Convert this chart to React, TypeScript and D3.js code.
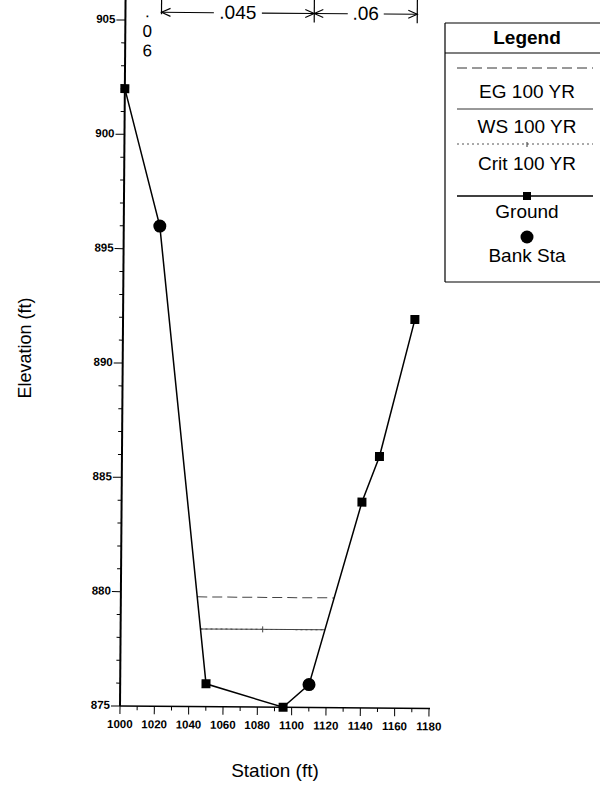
import React from "react";
import * as d3 from "d3";

const groundStations = [1000, 1021, 1050, 1095, 1110, 1140, 1150, 1170];
const groundElevations = [902, 896, 876, 875, 876, 884, 886, 892];
const bankStations = [1021, 1110];
const bankElevations = [896, 876];
const egElevation = 879.8;
const wsElevation = 878.4;
const critElevation = 878.4;
const nBreaks = [1000, 1021, 1110, 1170];
const nValues = [".06", ".045", ".06"];
const xTickValues = [1000, 1020, 1040, 1060, 1080, 1100, 1120, 1140, 1160, 1180];
const yTickValues = [875, 880, 885, 890, 895, 900, 905];
const legendItems = ["EG 100 YR", "WS 100 YR", "Crit 100 YR", "Ground", "Bank Sta"];

const W = 601;
const H = 791;
const FONT = "Arial, 'Liberation Sans', Helvetica, sans-serif";

const x = d3.scaleLinear().domain([1000, 1180]).range([120, 429]);
const y = d3.scaleLinear().domain([875, 905]).range([706, 20]);

const ground = groundStations.map((s, i) => [s, groundElevations[i]] as [number, number]);

function waterExtent(elev: number): [number, number] {
  let left = groundStations[0];
  let right = groundStations[groundStations.length - 1];
  for (let i = 0; i < ground.length - 1; i++) {
    const [s0, e0] = ground[i];
    const [s1, e1] = ground[i + 1];
    if (e0 >= elev && e1 < elev) {
      left = s0 + ((e0 - elev) / (e0 - e1)) * (s1 - s0);
      break;
    }
  }
  for (let i = ground.length - 1; i > 0; i--) {
    const [s0, e0] = ground[i - 1];
    const [s1, e1] = ground[i];
    if (e1 >= elev && e0 < elev) {
      right = s0 + ((elev - e0) / (e1 - e0)) * (s1 - s0);
      break;
    }
  }
  return [left, right];
}

function Arrow({ x1, x2, yy, dir }: { x1: number; x2: number; yy: number; dir: number }) {
  const hx = dir < 0 ? x1 : x2;
  return (
    <g stroke="#000" strokeWidth={1.1} fill="none">
      <line x1={x1} y1={yy} x2={x2} y2={yy} />
      <polyline points={`${hx - dir * 9},${yy - 4} ${hx},${yy} ${hx - dir * 9},${yy + 4}`} />
    </g>
  );
}

export default function App() {
  const line = d3
    .line<[number, number]>()
    .x((d) => x(d[0]))
    .y((d) => y(d[1]));

  const yMinor = d3.range(875, 906, 1).filter((v) => v % 5 !== 0);
  const xMinor = d3.range(1000, 1181, 10).filter((v) => v % 20 !== 0);

  const eg = waterExtent(egElevation);
  const ws = waterExtent(wsElevation);
  const cr = waterExtent(critElevation);

  const arrowY = 12;
  const nCenters = nBreaks.slice(0, -1).map((b, i) => (x(b) + x(nBreaks[i + 1])) / 2);

  const lgX0 = 445;
  const lgX1 = 600;
  const lgL = 457;
  const lgR = 593;
  const lgC = 527;

  const x0 = x(1000);
  const yb = y(875);

  return (
    <svg
      width={W}
      height={H}
      style={{ position: "absolute", left: 0, top: 0, background: "#fff" }}
      fontFamily={FONT}
    >
      <rect x={0} y={0} width={W} height={H} fill="#fff" />

      <g transform={`rotate(0.45, ${x0}, ${yb})`}>
        {/* Y axis */}
        <line x1={x0} y1={-10} x2={x0} y2={yb} stroke="#000" strokeWidth={2} />
        {yTickValues.map((v) => (
          <g key={"yt" + v}>
            <line x1={x0 - 9} x2={x0} y1={y(v)} y2={y(v)} stroke="#000" strokeWidth={1} />
            <text x={x0 - 10} y={y(v) + 3} textAnchor="end" fontSize={11.5} fontWeight="bold" fill="#000">
              {v}
            </text>
          </g>
        ))}
        {yMinor.map((v) => (
          <line key={"ym" + v} x1={x0 - 4} x2={x0} y1={y(v)} y2={y(v)} stroke="#000" strokeWidth={1} />
        ))}

        {/* X axis */}
        <line x1={x0} y1={yb} x2={x(1180) + 1} y2={yb} stroke="#000" strokeWidth={1.5} />
        {xTickValues.map((v) => (
          <g key={"xt" + v}>
            <line x1={x(v)} x2={x(v)} y1={yb} y2={yb + 8} stroke="#000" strokeWidth={1} />
            <text x={x(v)} y={yb + 22} textAnchor="middle" fontSize={11.5} fontWeight="bold" fill="#000">
              {v}
            </text>
          </g>
        ))}
        {xMinor.map((v) => (
          <line key={"xm" + v} x1={x(v)} x2={x(v)} y1={yb} y2={yb + 4} stroke="#000" strokeWidth={1} />
        ))}

        {/* Water surfaces */}
        <line x1={x(eg[0])} x2={x(eg[1])} y1={y(egElevation)} y2={y(egElevation)} stroke="#444" strokeWidth={1} strokeDasharray="10,5" />
        <line x1={x(ws[0])} x2={x(ws[1])} y1={y(wsElevation)} y2={y(wsElevation)} stroke="#444" strokeWidth={1} />
        <line x1={x(cr[0])} x2={x(cr[1])} y1={y(critElevation)} y2={y(critElevation)} stroke="#444" strokeWidth={1} strokeDasharray="2,3" />
        <line
          x1={x((cr[0] + cr[1]) / 2)}
          x2={x((cr[0] + cr[1]) / 2)}
          y1={y(critElevation) - 3}
          y2={y(critElevation) + 3}
          stroke="#444"
          strokeWidth={1}
        />

        {/* Ground */}
        <path d={line(ground) || ""} fill="none" stroke="#000" strokeWidth={1.5} />
        {ground.map(([s, e], i) => (
          <rect key={"g" + i} x={x(s) - 4.5} y={y(e) - 4.5} width={9} height={9} fill="#000" />
        ))}
        {bankStations.map((s, i) => (
          <circle key={"b" + i} cx={x(s)} cy={y(bankElevations[i])} r={6.5} fill="#000" />
        ))}

        {/* Manning's n annotations */}
        {nBreaks.slice(1).map((b, i) => (
          <line key={"nb" + i} x1={x(b)} x2={x(b)} y1={-10} y2={i === 0 ? 14 : 21} stroke="#000" strokeWidth={1.2} />
        ))}
        {nValues[0].split("").map((ch, i) => (
          <text key={"nv" + i} x={nCenters[0] + 4} y={17 + i * 19.5} textAnchor="middle" fontSize={17} fill="#000">
            {ch}
          </text>
        ))}
        <Arrow x1={x(nBreaks[1])} x2={nCenters[1] - 24} yy={arrowY} dir={-1} />
        <text x={nCenters[1]} y={18} textAnchor="middle" fontSize={19} fill="#000">
          {nValues[1]}
        </text>
        <Arrow x1={nCenters[1] + 24} x2={x(nBreaks[2])} yy={arrowY} dir={1} />
        <Arrow x1={x(nBreaks[2])} x2={nCenters[2] - 18} yy={arrowY} dir={-1} />
        <text x={nCenters[2]} y={18} textAnchor="middle" fontSize={19} fill="#000">
          {nValues[2]}
        </text>
        <Arrow x1={nCenters[2] + 18} x2={x(nBreaks[3])} yy={arrowY} dir={1} />
      </g>

      {/* Axis titles */}
      <text x={275} y={777} textAnchor="middle" fontSize={19} fill="#000">
        Station (ft)
      </text>
      <text transform={`translate(31,348) rotate(-90)`} textAnchor="middle" fontSize={18} fill="#000">
        Elevation (ft)
      </text>

      {/* Legend */}
      <g>
        <line x1={lgX0} x2={lgX1} y1={23} y2={23} stroke="#000" strokeWidth={1.2} />
        <line x1={lgX0} x2={lgX0} y1={23} y2={282} stroke="#000" strokeWidth={1.2} />
        <line x1={lgX0} x2={lgX1} y1={282} y2={282} stroke="#000" strokeWidth={1.2} />
        <line x1={lgX0} x2={lgX1} y1={53} y2={53} stroke="#000" strokeWidth={1.2} />
        <text x={lgC} y={44} textAnchor="middle" fontSize={19} fontWeight="bold" fill="#000">
          Legend
        </text>
        <line x1={lgL} x2={lgR} y1={68} y2={68} stroke="#333" strokeWidth={1} strokeDasharray="10,5" />
        <text x={lgC} y={98} textAnchor="middle" fontSize={19} fill="#000">
          {legendItems[0]}
        </text>
        <line x1={lgL} x2={lgR} y1={109} y2={109} stroke="#333" strokeWidth={1} />
        <text x={lgC} y={133} textAnchor="middle" fontSize={19} fill="#000">
          {legendItems[1]}
        </text>
        <line x1={lgL} x2={lgR} y1={144} y2={144} stroke="#555" strokeWidth={1} strokeDasharray="2,3" />
        <line x1={lgC} x2={lgC} y1={142} y2={147} stroke="#333" strokeWidth={1} />
        <text x={lgC} y={170} textAnchor="middle" fontSize={19} fill="#000">
          {legendItems[2]}
        </text>
        <line x1={lgL} x2={lgR} y1={196} y2={196} stroke="#000" strokeWidth={1.5} />
        <rect x={lgC - 4} y={192} width={8} height={8} fill="#000" />
        <text x={lgC} y={218} textAnchor="middle" fontSize={19} fill="#000">
          {legendItems[3]}
        </text>
        <circle cx={lgC} cy={237} r={6.5} fill="#000" />
        <text x={lgC} y={262} textAnchor="middle" fontSize={19} fill="#000">
          {legendItems[4]}
        </text>
      </g>
    </svg>
  );
}
